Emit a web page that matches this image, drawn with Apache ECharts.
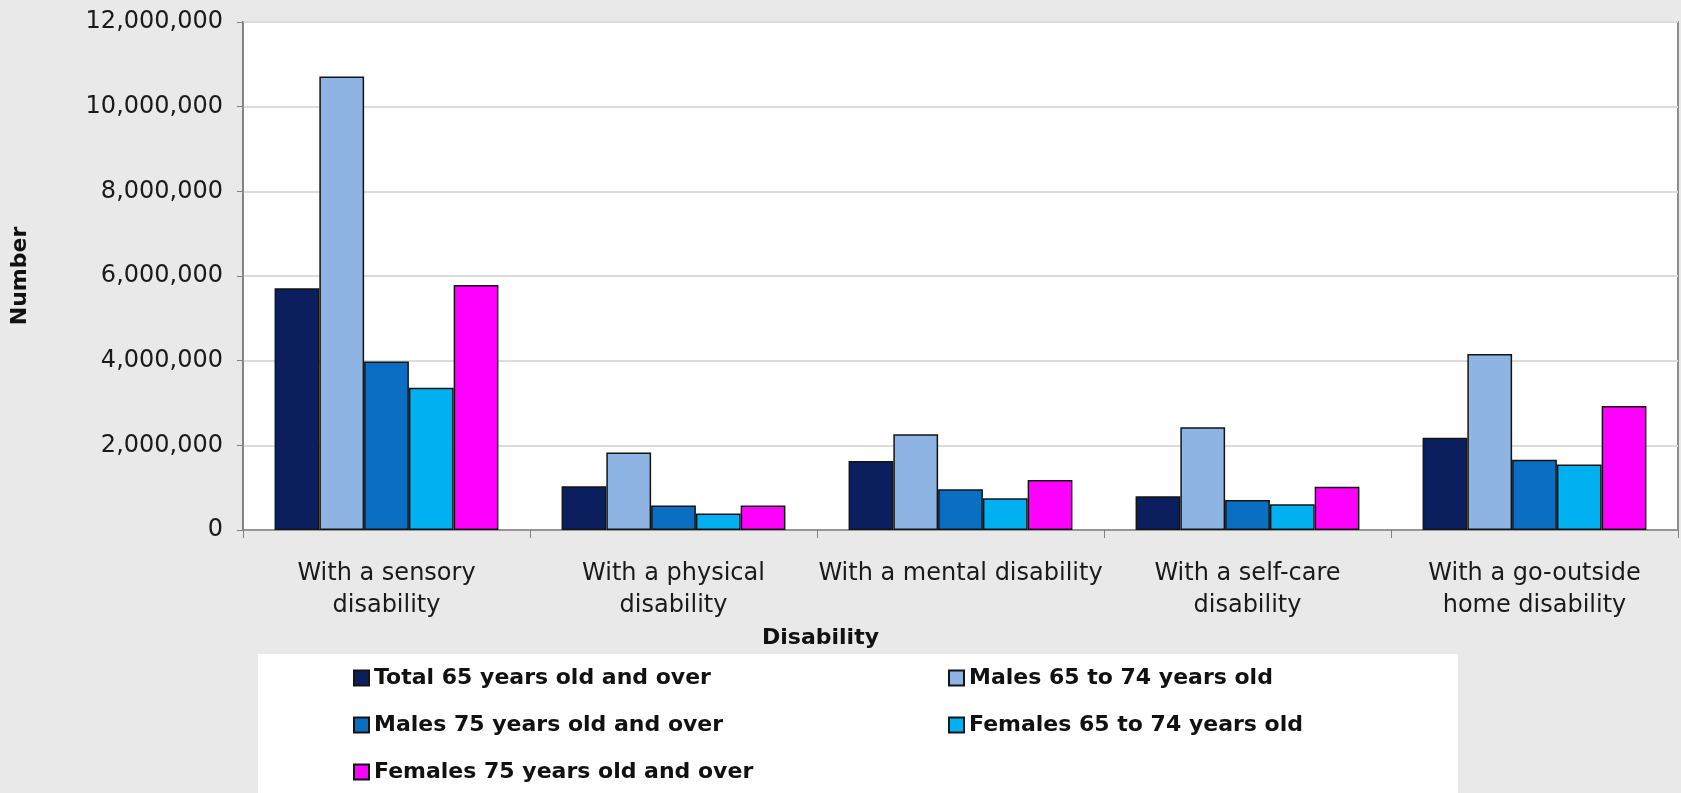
<!DOCTYPE html>
<html>
<head>
<meta charset="utf-8">
<title>Disability by age and sex</title>
<script src="https://cdn.jsdelivr.net/npm/echarts@6/dist/echarts.min.js"></script>
<style>
  html, body { margin: 0; padding: 0; background: #e9e9e9; }
  #chart { width: 1681px; height: 793px; }
</style>
</head>
<body>
<div id="chart"></div>
<script>
// Disability categories (x axis)
const categories = [
  'With a sensory\ndisability',
  'With a physical\ndisability',
  'With a mental disability',
  'With a self-care\ndisability',
  'With a go-outside\nhome disability'
];

// Series names
const seriesNames = [
  'Total 65 years old and over',
  'Males 65 to 74 years old',
  'Males 75 years old and over',
  'Females 65 to 74 years old',
  'Females 75 years old and over'
];

// Counts per disability, one array per group
const total65Plus     = [5710000, 1035000, 1630000,  800000, 2180000];
const males65to74     = [10710000, 1830000, 2260000, 2430000, 4160000];
const males75Plus     = [3980000,  580000,  960000,  710000, 1660000];
const females65to74   = [3360000,  390000,  750000,  610000, 1550000];
const females75Plus   = [5790000,  580000, 1180000, 1020000, 2930000];

const seriesValues = [total65Plus, males65to74, males75Plus, females65to74, females75Plus];
const seriesColors = ['#0b1f5e', '#8eb4e3', '#0a6fc2', '#00b0f0', '#ff00ff'];

// Value axis range
const yMin = 0;
const yMax = 12000000;
const yStep = 2000000;

const FONT = 'DejaVu Sans';

const chart = echarts.init(document.getElementById('chart'), null, { renderer: 'canvas' });

const series = seriesNames.map((name, i) => ({
  name: name,
  type: 'bar',
  data: seriesValues[i],
  barGap: '0%',
  barCategoryGap: '22%',
  itemStyle: {
    color: seriesColors[i],
    borderColor: '#141414',
    borderWidth: 1.5
  }
}));

const legendText = {
  fontFamily: FONT,
  fontWeight: 'bold',
  fontSize: 22,
  color: '#111'
};

chart.setOption({
  backgroundColor: '#e9e9e9',
  animation: false,
  textStyle: { fontFamily: FONT },
  graphic: [{
    type: 'rect',
    z: 0,
    shape: { x: 258, y: 654, width: 1200, height: 139 },
    style: { fill: '#ffffff' }
  }],
  grid: {
    left: 243,
    right: 3,
    top: 22,
    bottom: 263,
    show: true,
    backgroundColor: '#ffffff',
    borderColor: '#8c8c8c',
    borderWidth: 2
  },
  legend: [
    {
      data: [seriesNames[0], seriesNames[2], seriesNames[4]],
      orient: 'vertical',
      left: 353,
      top: 667,
      padding: 0,
      itemGap: 25,
      itemWidth: 15,
      itemHeight: 15,
      icon: 'rect',
      textStyle: legendText
    },
    {
      data: [seriesNames[1], seriesNames[3]],
      orient: 'vertical',
      left: 948,
      top: 667,
      padding: 0,
      itemGap: 25,
      itemWidth: 15,
      itemHeight: 15,
      icon: 'rect',
      textStyle: legendText
    }
  ],
  xAxis: {
    type: 'category',
    data: categories,
    name: 'Disability',
    nameLocation: 'middle',
    nameGap: 97,
    nameTextStyle: {
      fontFamily: FONT,
      fontWeight: 'bold',
      fontSize: 22,
      color: '#111',
      padding: [0, 280, 0, 0]
    },
    axisLine: { lineStyle: { color: '#808080', width: 1.5 } },
    axisTick: { show: true, length: 8, lineStyle: { color: '#808080' } },
    axisLabel: {
      interval: 0,
      margin: 28,
      fontFamily: FONT,
      fontSize: 24,
      lineHeight: 32,
      color: '#1a1a1a'
    }
  },
  yAxis: {
    type: 'value',
    min: yMin,
    max: yMax,
    interval: yStep,
    name: 'Number',
    nameLocation: 'middle',
    nameGap: 212,
    nameTextStyle: {
      fontFamily: FONT,
      fontWeight: 'bold',
      fontSize: 22,
      color: '#111'
    },
    axisLine: { show: true, lineStyle: { color: '#808080', width: 1.5 } },
    axisTick: { show: true, length: 6, lineStyle: { color: '#808080' } },
    splitLine: { lineStyle: { color: '#dcdcdc', width: 2 } },
    axisLabel: {
      margin: 20,
      fontFamily: FONT,
      fontSize: 24,
      color: '#1a1a1a',
      formatter: v => v.toLocaleString('en-US')
    }
  },
  series: series
});
</script>
</body>
</html>
